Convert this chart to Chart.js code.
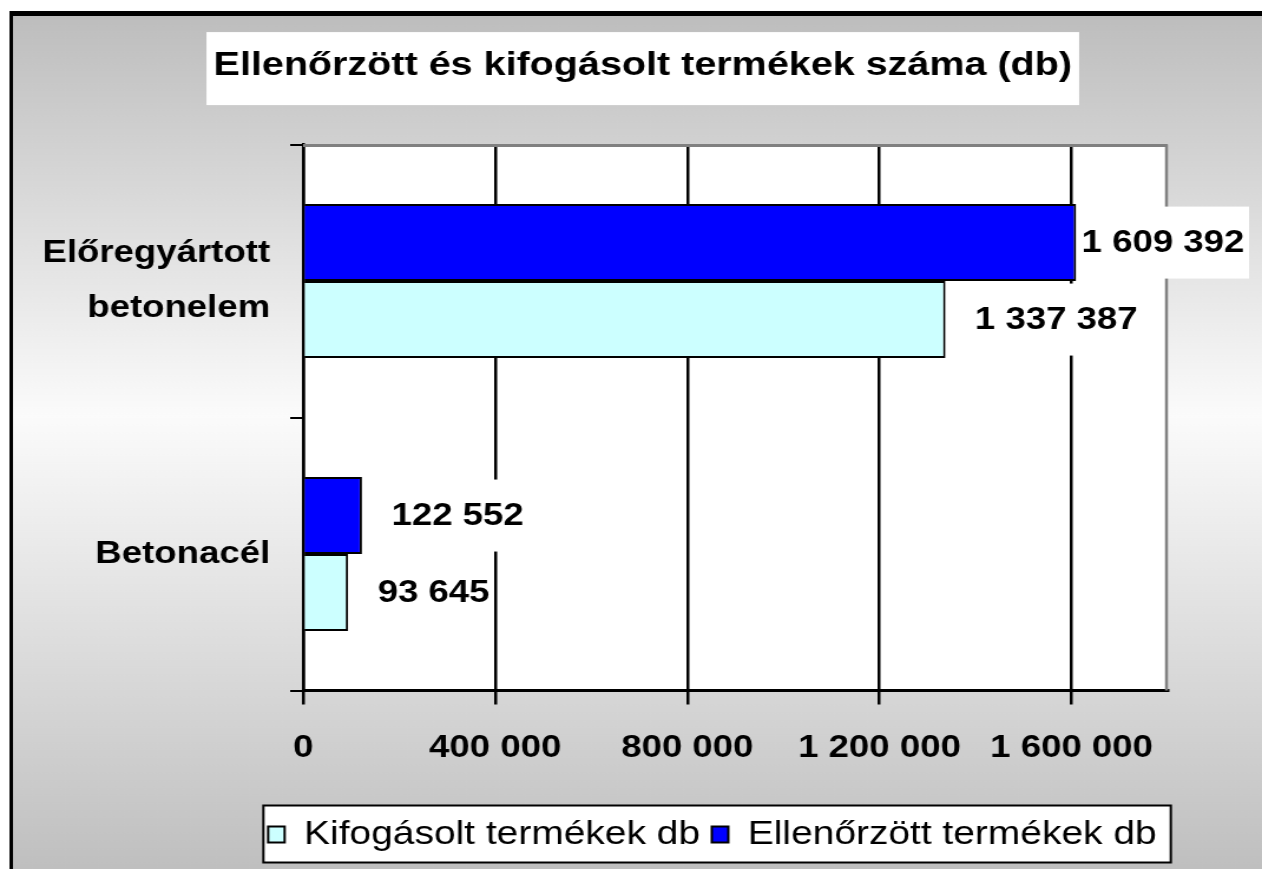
<!DOCTYPE html>
<html>
<head>
<meta charset="utf-8">
<title>Ellenőrzött és kifogásolt termékek</title>
<script src="https://cdn.jsdelivr.net/npm/chart.js@4.4.0/dist/chart.umd.min.js"></script>
<style>
  html, body { margin: 0; padding: 0; background: #fff; overflow: hidden; }
  /* the original picture is stretched sideways, so the canvas is too */
  #wrap { width: 1070px; height: 869px; transform: scaleX(1.17944); transform-origin: 0 0; }
</style>
</head>
<body>
<div id="wrap"><canvas id="chart" width="1070" height="869"></canvas></div>
<script>
const chartTitle = 'Ellenőrzött és kifogásolt termékek száma (db)';
const categories = [['Előregyártott', 'betonelem'], 'Betonacél'];
const checkedLabel = 'Ellenőrzött termékek db';
const checkedValues = [1609392, 122552];
const rejectedLabel = 'Kifogásolt termékek db';
const rejectedValues = [1337387, 93645];
const xTicks = [0, 400000, 800000, 1200000, 1600000];
const xMax = 1800000;

const FONT = '"Liberation Sans", Arial, sans-serif';
const fmt = v => String(v).replace(/\B(?=(\d{3})+(?!\d))/g, ' ');

const frame = {
  id: 'frame',
  afterLayout(chart) {
    // title and legend are not centred on the same line in the original
    chart.titleBlock.left += 40;
    chart.titleBlock.right += 40;
    chart.legend.left += 99;
    chart.legend.right += 99;
  },
  beforeDraw(chart) {
    const { ctx, width, height, chartArea: a } = chart;
    ctx.save();
    ctx.fillStyle = '#fff';
    ctx.fillRect(0, 0, width, height);

    // grey background, dark - light - dark
    const g = ctx.createLinearGradient(0, 14, 0, height);
    g.addColorStop(0, '#bdbdbd');
    g.addColorStop(0.47, '#fbfbfb');
    g.addColorStop(1, '#bfbfbf');
    ctx.fillStyle = g;
    ctx.fillRect(8, 11, width - 8, height - 11);

    ctx.strokeStyle = '#000';
    ctx.lineWidth = 5;
    ctx.beginPath(); ctx.moveTo(8, 13.5); ctx.lineTo(width, 13.5); ctx.stroke();
    ctx.lineWidth = 3;
    ctx.beginPath(); ctx.moveTo(9.5, 11); ctx.lineTo(9.5, height); ctx.stroke();

    // plot area
    ctx.fillStyle = '#fff';
    ctx.fillRect(a.left, a.top, a.width, a.height);

    // title box
    const t = chart.titleBlock;
    const tOpt = chart.options.plugins.title;
    ctx.font = 'bold ' + tOpt.font.size + 'px ' + FONT;
    const tw = ctx.measureText(chartTitle).width;
    const cx = (t.left + t.right) / 2;
    const cy = t.top + tOpt.padding.top + tOpt.font.size * tOpt.font.lineHeight / 2;
    ctx.fillRect(cx - tw / 2 - 6, cy - 34, tw + 12, 73);

    // legend box
    const hb = chart.legend.legendHitBoxes;
    const last = hb[hb.length - 1];
    const l = hb[0].left - 4;
    const r = last.left + last.width + 12;
    const top = hb[0].top - 12.5;
    const bot = hb[0].top + hb[0].height + 11.5;
    ctx.fillRect(l, top, r - l, bot - top);
    ctx.lineWidth = 2;
    ctx.strokeStyle = '#000';
    ctx.strokeRect(l, top, r - l, bot - top);
    ctx.restore();
  },
  beforeDatasetsDraw(chart) {
    // grey top and right edge of the plot area
    const { ctx, chartArea: a } = chart;
    ctx.save();
    ctx.strokeStyle = '#808080';
    ctx.lineWidth = 3;
    ctx.beginPath(); ctx.moveTo(a.left, a.top + 1); ctx.lineTo(a.right, a.top + 1); ctx.stroke();
    ctx.lineWidth = 2.5;
    ctx.beginPath(); ctx.moveTo(a.right - 1, a.top); ctx.lineTo(a.right - 1, a.bottom); ctx.stroke();
    ctx.restore();
  },
  afterDatasetsDraw(chart) {
    // value labels on white boxes
    const { ctx, width } = chart;
    ctx.save();
    ctx.font = 'bold 31px ' + FONT;
    ctx.textBaseline = 'middle';
    chart.data.datasets.forEach((ds, i) => {
      chart.getDatasetMeta(i).data.forEach((bar, j) => {
        const txt = fmt(ds.data[j]);
        const w = ctx.measureText(txt).width;
        const x = Math.min(bar.x + 25, width - 15 - w);
        ctx.fillStyle = '#fff';
        ctx.fillRect(x - 4, bar.y - 36, w + 8, 72);
        ctx.fillStyle = '#000';
        ctx.fillText(txt, x, bar.y + 1);
      });
    });
    ctx.restore();
  }
};

new Chart(document.getElementById('chart'), {
  type: 'bar',
  data: {
    labels: categories,
    datasets: [
      {
        label: checkedLabel,
        data: checkedValues,
        backgroundColor: '#0000ff',
        borderColor: '#000',
        borderWidth: 2
      },
      {
        label: rejectedLabel,
        data: rejectedValues,
        backgroundColor: '#ccffff',
        borderColor: '#000',
        borderWidth: 2
      }
    ]
  },
  options: {
    indexAxis: 'y',
    responsive: false,
    animation: false,
    devicePixelRatio: 1,
    categoryPercentage: 0.564,
    barPercentage: 1,
    layout: { padding: { left: 20, right: 80, top: 0, bottom: 8 } },
    scales: {
      x: {
        min: 0,
        max: xMax,
        afterBuildTicks: axis => { axis.ticks = xTicks.map(v => ({ value: v })); },
        afterFit: axis => { axis.height = 117.5; },
        grid: { color: '#000', lineWidth: 2.5, tickLength: 14 },
        border: { color: '#000', width: 3 },
        ticks: {
          color: '#000',
          font: { family: FONT, size: 31, weight: 'bold' },
          padding: 25,
          maxRotation: 0,
          callback: v => fmt(v)
        }
      },
      y: {
        afterFit: axis => { axis.width = 237; },
        grid: { drawOnChartArea: false, color: '#000', lineWidth: 2, tickLength: 11 },
        border: { color: '#000', width: 2.5 },
        ticks: {
          color: '#000',
          font: { family: FONT, size: 31, weight: 'bold', lineHeight: 1.75 },
          padding: 17
        }
      }
    },
    plugins: {
      title: {
        display: true,
        text: chartTitle,
        color: '#000',
        font: { family: FONT, size: 33.5, weight: 'bold', lineHeight: 1.2 },
        padding: { top: 46, bottom: 58.4 }
      },
      legend: {
        position: 'bottom',
        labels: {
          color: '#000',
          font: { family: FONT, size: 33 },
          boxWidth: 14,
          boxHeight: 16,
          padding: 10,
          sort: (a, b) => b.datasetIndex - a.datasetIndex
        }
      },
      tooltip: { enabled: false }
    }
  },
  plugins: [frame]
});
</script>
</body>
</html>
